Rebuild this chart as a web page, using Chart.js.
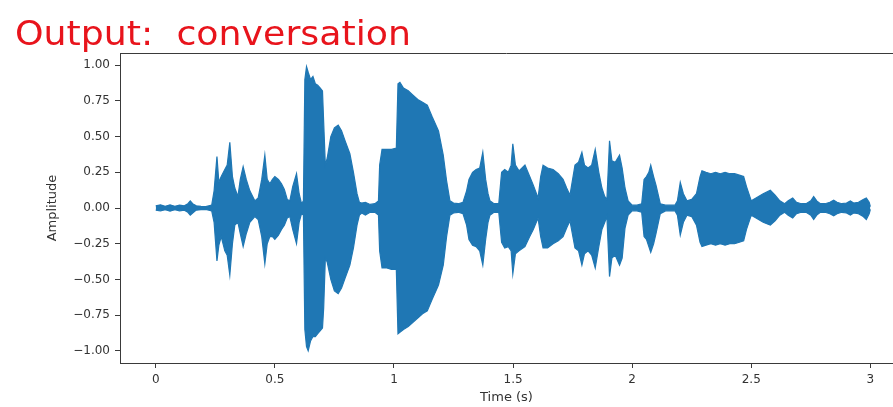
<!DOCTYPE html>
<html>
<head>
<meta charset="utf-8">
<script src="https://cdn.jsdelivr.net/npm/chart.js@4.4.1/dist/chart.umd.min.js"></script>
<style>
  html, body { margin: 0; padding: 0; background: #ffffff; width: 893px; height: 407px; overflow: hidden; }
  #wrap { position: relative; width: 893px; height: 407px; overflow: hidden; }
  #chart { position: absolute; left: 0; top: 0; }
  #title { position: absolute; left: 15px; top: 17px; font-family: 'DejaVu Sans', sans-serif; font-size: 33px; line-height: 33px;
           color: #e8141c; white-space: pre; transform-origin: 0 0; }
</style>
</head>
<body>
<div id="wrap">
  <canvas id="chart" width="893" height="407"></canvas>
  <div id="title">Output:  conversation</div>
</div>
<script>
// ---- data ----
const TIME = [
  0.00,0.02,0.04,0.06,0.08,0.10,0.12,0.135,0.145,0.155,0.17,0.19,0.21,0.235,
  0.245,0.257,0.265,0.275,0.29,0.30,0.311,0.322,0.332,0.345,0.355,0.367,0.38,0.395,0.416,0.43,0.445,0.458,0.468,0.479,0.49,0.50,0.515,0.528,0.54,0.552,0.563,0.575,0.591,0.602,0.612,0.62,
  0.626,0.633,0.64,0.65,0.66,0.67,0.68,0.69,0.70,0.705,0.712,0.72,0.735,0.75,0.766,0.78,0.795,0.815,0.83,0.845,0.855,0.865,0.88,0.90,0.92,0.935,
  0.94,0.95,0.97,0.99,1.01,1.017,1.025,1.04,1.06,1.08,1.10,1.12,1.14,1.16,1.187,1.207,1.221,1.235,1.25,1.27,1.29,
  1.305,1.315,1.33,1.345,1.36,1.373,1.385,1.395,1.403,1.42,1.44,1.452,1.465,1.48,1.492,1.499,1.51,1.525,1.55,1.57,1.585,1.605,1.616,1.626,1.645,1.668,1.69,1.71,1.725,1.739,1.76,1.775,1.789,1.80,1.815,1.83,1.845,1.86,1.873,1.885,1.894,1.905,1.915,1.929,1.947,1.958,1.97,1.983,
  2.00,2.02,2.04,2.05,2.06,2.07,2.078,2.09,2.10,2.118,2.14,2.16,2.18,2.19,2.202,2.215,2.23,2.25,2.27,2.285,2.293,2.31,2.33,2.35,2.37,2.39,2.41,2.43,2.45,2.468,2.48,2.50,2.52,2.55,2.58,2.60,2.62,2.64,2.655,2.674,2.69,2.71,2.73,2.75,2.762,2.775,2.79,2.81,2.83,2.846,2.86,2.88,2.90,2.916,2.93,2.95,2.97,2.983,2.995,3.0
];
const UPPER = [
  0.015,0.022,0.012,0.022,0.012,0.02,0.015,0.03,0.05,0.03,0.015,0.012,0.01,0.02,
  0.12,0.36,0.18,0.22,0.27,0.30,0.46,0.22,0.14,0.08,0.20,0.29,0.20,0.12,0.05,0.07,0.20,0.37,0.20,0.17,0.20,0.22,0.20,0.17,0.13,0.06,0.05,0.15,0.24,0.10,0.03,0.05,
  0.90,0.99,0.95,0.90,0.92,0.87,0.86,0.84,0.82,0.60,0.30,0.35,0.50,0.56,0.58,0.54,0.47,0.38,0.25,0.10,0.04,0.035,0.04,0.025,0.03,0.05,
  0.30,0.41,0.41,0.41,0.42,0.87,0.88,0.84,0.82,0.79,0.76,0.74,0.72,0.64,0.54,0.37,0.19,0.05,0.035,0.03,0.04,
  0.12,0.20,0.25,0.27,0.28,0.39,0.20,0.10,0.05,0.03,0.03,0.25,0.27,0.25,0.30,0.45,0.30,0.26,0.30,0.22,0.16,0.07,0.22,0.30,0.28,0.27,0.24,0.20,0.14,0.09,0.30,0.32,0.39,0.30,0.28,0.30,0.41,0.25,0.14,0.08,0.06,0.47,0.33,0.32,0.37,0.28,0.14,0.05,
  0.02,0.02,0.03,0.20,0.22,0.25,0.30,0.22,0.16,0.03,0.02,0.02,0.02,0.05,0.18,0.10,0.05,0.06,0.10,0.22,0.26,0.25,0.24,0.25,0.24,0.25,0.24,0.24,0.23,0.22,0.15,0.05,0.07,0.10,0.125,0.09,0.05,0.03,0.05,0.07,0.04,0.03,0.03,0.05,0.08,0.05,0.03,0.03,0.04,0.055,0.04,0.03,0.035,0.05,0.035,0.04,0.06,0.07,0.04,0.01
];
const LOWER = [
  -0.015,-0.02,-0.012,-0.022,-0.012,-0.02,-0.015,-0.03,-0.05,-0.035,-0.015,-0.012,-0.01,-0.02,
  -0.10,-0.37,-0.26,-0.20,-0.30,-0.33,-0.47,-0.25,-0.12,-0.10,-0.18,-0.27,-0.18,-0.10,-0.06,-0.08,-0.20,-0.39,-0.25,-0.20,-0.20,-0.22,-0.19,-0.15,-0.12,-0.07,-0.06,-0.15,-0.25,-0.10,-0.04,-0.05,
  -0.85,-0.97,-1.00,-0.93,-0.90,-0.90,-0.88,-0.86,-0.84,-0.70,-0.35,-0.38,-0.50,-0.58,-0.60,-0.56,-0.49,-0.40,-0.28,-0.12,-0.05,-0.035,-0.05,-0.03,-0.03,-0.05,
  -0.30,-0.42,-0.42,-0.43,-0.43,-0.88,-0.87,-0.85,-0.83,-0.80,-0.77,-0.74,-0.72,-0.64,-0.54,-0.40,-0.20,-0.05,-0.035,-0.03,-0.04,
  -0.12,-0.22,-0.26,-0.27,-0.30,-0.40,-0.22,-0.10,-0.05,-0.03,-0.03,-0.24,-0.28,-0.27,-0.30,-0.46,-0.32,-0.30,-0.27,-0.20,-0.15,-0.07,-0.20,-0.28,-0.28,-0.25,-0.23,-0.20,-0.14,-0.09,-0.28,-0.30,-0.40,-0.32,-0.30,-0.33,-0.42,-0.27,-0.15,-0.10,-0.06,-0.48,-0.35,-0.33,-0.40,-0.35,-0.14,-0.05,
  -0.02,-0.02,-0.03,-0.20,-0.22,-0.27,-0.31,-0.25,-0.18,-0.04,-0.02,-0.02,-0.02,-0.05,-0.19,-0.10,-0.05,-0.06,-0.12,-0.24,-0.27,-0.26,-0.25,-0.26,-0.25,-0.26,-0.25,-0.25,-0.24,-0.23,-0.15,-0.05,-0.07,-0.10,-0.12,-0.09,-0.05,-0.03,-0.05,-0.07,-0.04,-0.03,-0.03,-0.05,-0.08,-0.05,-0.03,-0.03,-0.04,-0.055,-0.04,-0.03,-0.035,-0.05,-0.035,-0.04,-0.06,-0.08,-0.04,-0.01
];
const X_TICKS = [0, 0.5, 1, 1.5, 2, 2.5, 3];
const X_TICK_LABELS = ['0', '0.5', '1', '1.5', '2', '2.5', '3'];
const Y_TICKS = [-1, -0.75, -0.5, -0.25, 0, 0.25, 0.5, 0.75, 1];
const Y_TICK_LABELS = ['\u22121.00', '\u22120.75', '\u22120.50', '\u22120.25', '0.00', '0.25', '0.50', '0.75', '1.00'];
const X_LABEL = 'Time (s)';
const Y_LABEL = 'Amplitude';

// fit the title width
(function () {
  const t = document.getElementById('title');
  const w = t.getBoundingClientRect().width;
  t.style.transform = 'scaleX(' + (396 / w) + ')';
})();

const BLUE = '#1f77b4';
const AXIS = '#3a3a3a';
const TEXT = '#333333';

const topBorder = {
  id: 'topBorder',
  afterDraw(chart) {
    const { ctx, chartArea } = chart;
    ctx.save();
    ctx.strokeStyle = AXIS;
    ctx.lineWidth = 1;
    ctx.beginPath();
    ctx.moveTo(chartArea.left, chartArea.top + 0.5);
    ctx.lineTo(chartArea.right, chartArea.top + 0.5);
    ctx.stroke();
    ctx.restore();
  }
};

new Chart(document.getElementById('chart'), {
  type: 'line',
  data: {
    datasets: [
      {
        data: TIME.map((t, i) => ({ x: t, y: UPPER[i] })),
        borderColor: BLUE, backgroundColor: BLUE, borderWidth: 1.2,
        pointRadius: 0, tension: 0, fill: false
      },
      {
        data: TIME.map((t, i) => ({ x: t, y: LOWER[i] })),
        borderColor: BLUE, backgroundColor: BLUE, borderWidth: 1.2,
        pointRadius: 0, tension: 0, fill: '-1'
      }
    ]
  },
  options: {
    responsive: false,
    animation: false,
    events: [],
    layout: { padding: { top: 53, right: 0, left: 0, bottom: 0 } },
    plugins: { legend: { display: false }, tooltip: { enabled: false }, title: { display: false } },
    scales: {
      x: {
        type: 'linear', min: -0.15, max: 3.095,
        afterBuildTicks: s => { s.ticks = X_TICKS.map(v => ({ value: v })); },
        afterFit: s => { s.height = 44; },
        ticks: {
          autoSkip: false, maxRotation: 0, padding: 5, color: TEXT,
          font: { family: 'DejaVu Sans', size: 12 },
          callback: (v) => X_TICK_LABELS[X_TICKS.indexOf(v)]
        },
        grid: { drawOnChartArea: false, drawTicks: true, tickLength: 5, color: AXIS, lineWidth: 1 },
        border: { display: true, color: AXIS, width: 1 },
        title: { display: true, text: X_LABEL, color: TEXT, font: { family: 'DejaVu Sans', size: 13 }, padding: { top: 0, bottom: 2 } }
      },
      y: {
        type: 'linear', min: -1.085, max: 1.085,
        afterBuildTicks: s => { s.ticks = Y_TICKS.map(v => ({ value: v })); },
        afterFit: s => { s.width = 120; },
        ticks: {
          autoSkip: false, padding: 5, color: TEXT,
          font: { family: 'DejaVu Sans', size: 12 },
          callback: (v) => Y_TICK_LABELS[Y_TICKS.indexOf(v)]
        },
        grid: { drawOnChartArea: false, drawTicks: true, tickLength: 5, color: AXIS, lineWidth: 1 },
        border: { display: true, color: AXIS, width: 1 },
        title: { display: true, text: Y_LABEL, color: TEXT, font: { family: 'DejaVu Sans', size: 13 }, padding: { top: 45, bottom: 0 } }
      }
    }
  },
  plugins: [topBorder]
});
</script>
</body>
</html>
